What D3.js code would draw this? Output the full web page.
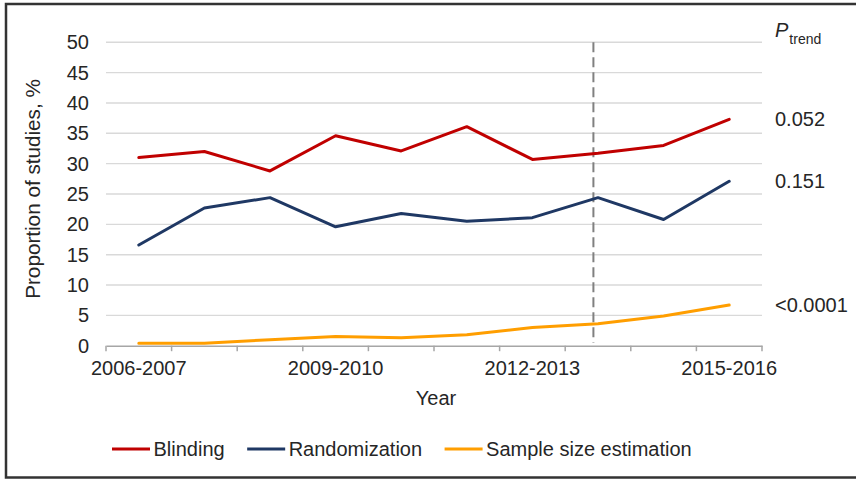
<!DOCTYPE html>
<html>
<head>
<meta charset="utf-8">
<script src="https://cdn.jsdelivr.net/npm/d3@7/dist/d3.min.js"></script>
<style>
  html, body { margin: 0; padding: 0; background: #fff; }
  svg { display: block; font-family: "Liberation Sans", Arial, sans-serif; }
</style>
</head>
<body>
<svg id="chart" width="856" height="479"></svg>
<script>
const categories = ["2006-2007","2007-2008","2008-2009","2009-2010","2010-2011","2011-2012","2012-2013","2013-2014","2014-2015","2015-2016"];
const tickLabels = ["2006-2007","2009-2010","2012-2013","2015-2016"];
const blinding = [31.0, 32.0, 28.8, 34.6, 32.1, 36.1, 30.7, 31.7, 33.0, 37.3];
const randomization = [16.6, 22.7, 24.4, 19.6, 21.8, 20.5, 21.1, 24.4, 20.8, 27.1];
const sampleSize = [0.4, 0.4, 1.0, 1.5, 1.3, 1.8, 3.0, 3.6, 4.9, 6.7];
const seriesNames = ["Blinding", "Randomization", "Sample size estimation"];
const pTrend = ["0.052", "0.151", "<0.0001"];
const yTicks = [0, 5, 10, 15, 20, 25, 30, 35, 40, 45, 50];
const markerCategory = "2013-2014";

(function () {
const colors = ["#C00000", "#1F3864", "#FF9E00"];
const series = [blinding, randomization, sampleSize];
const textColor = "#262626";

const svg = d3.select("#chart");
const pLeft = 106, pRight = 762, pTop = 42.3, pBottom = 345.7;

const x = d3.scaleBand().domain(categories).range([pLeft, pRight]).padding(0);
const y = d3.scaleLinear().domain([0, 50]).range([pBottom, pTop]);
const cx = c => x(c) + x.bandwidth() / 2;

// frame
svg.append("path")
  .attr("d", `M856,4 H6 V477.5 H856`)
  .attr("fill", "none").attr("stroke", "#333").attr("stroke-width", 2.5);

// gridlines
svg.append("g").selectAll("line").data(yTicks.filter(d => d > 0)).join("line")
  .attr("x1", pLeft).attr("x2", pRight)
  .attr("y1", d => y(d)).attr("y2", d => y(d))
  .attr("stroke", "#D9D9D9").attr("stroke-width", 1.4);

// y tick labels
const yAxis = d3.axisLeft(y).tickValues(yTicks).tickSize(0).tickPadding(17);
const gy = svg.append("g").attr("transform", `translate(${pLeft},0)`).call(yAxis);
gy.select(".domain").remove();
gy.selectAll("text").attr("font-size", 20).attr("fill", textColor)
  .attr("font-family", "Liberation Sans, Arial, sans-serif");

// x axis
const xAxis = d3.axisBottom(x).tickSize(0).tickFormat(d => tickLabels.includes(d) ? d : "");
const gx = svg.append("g").attr("transform", `translate(0,${pBottom})`).call(xAxis);
gx.select(".domain").attr("stroke", "#A6A6A6").attr("stroke-width", 1.5);
gx.selectAll(".tick line").remove();
gx.selectAll("text").attr("font-size", 20).attr("fill", textColor).attr("dy", "0.71em").attr("y", 15)
  .attr("font-family", "Liberation Sans, Arial, sans-serif");
// tick marks at category boundaries
const boundaries = categories.map(c => x(c)).concat([pRight]);
svg.append("g").selectAll("line").data(boundaries).join("line")
  .attr("x1", d => d).attr("x2", d => d)
  .attr("y1", pBottom).attr("y2", pBottom + 5.5)
  .attr("stroke", "#A6A6A6").attr("stroke-width", 1.5);

// dashed marker line
const mx = x(markerCategory) + x.bandwidth() * 0.43;
svg.append("line")
  .attr("x1", mx).attr("x2", mx).attr("y1", y(50)).attr("y2", pBottom - 3)
  .attr("stroke", "#808080").attr("stroke-width", 2).attr("stroke-dasharray", "10,5");

// lines
const line = d3.line().x((d, i) => cx(categories[i])).y(d => y(d));
series.forEach((s, k) => {
  svg.append("path").datum(s).attr("d", line)
    .attr("fill", "none").attr("stroke", colors[k]).attr("stroke-width", 3)
    .attr("stroke-linejoin", "round").attr("stroke-linecap", "round");
});

// P trend labels
const pt = svg.append("text").attr("x", 775).attr("y", 37).attr("fill", textColor);
pt.append("tspan").attr("font-size", 20).attr("font-style", "italic").text("P");
pt.append("tspan").attr("font-size", 14).attr("dy", 6.5).attr("dx", 1).text("trend");
series.forEach((s, k) => {
  svg.append("text").attr("x", 775).attr("y", y(s[s.length - 1]))
    .attr("dy", "0.35em").attr("font-size", 20).attr("fill", textColor).text(pTrend[k]);
});

// axis titles
svg.append("text").attr("x", 436).attr("y", 405).attr("text-anchor", "middle")
  .attr("font-size", 20).attr("fill", textColor).text("Year");
svg.append("text").attr("transform", "translate(40,189) rotate(-90)").attr("text-anchor", "middle")
  .attr("font-size", 20.7).attr("fill", textColor).text("Proportion of studies, %");

// legend
const lg = svg.append("g");
let lx = 112;
seriesNames.forEach((name, k) => {
  lg.append("line").attr("x1", lx).attr("x2", lx + 38).attr("y1", 449).attr("y2", 449)
    .attr("stroke", colors[k]).attr("stroke-width", 3);
  const t = lg.append("text").attr("x", lx + 41.5).attr("y", 456)
    .attr("font-size", 20).attr("fill", textColor).text(name);
  lx += 41.5 + t.node().getComputedTextLength() + 22.5;
});
})();
</script>
</body>
</html>
